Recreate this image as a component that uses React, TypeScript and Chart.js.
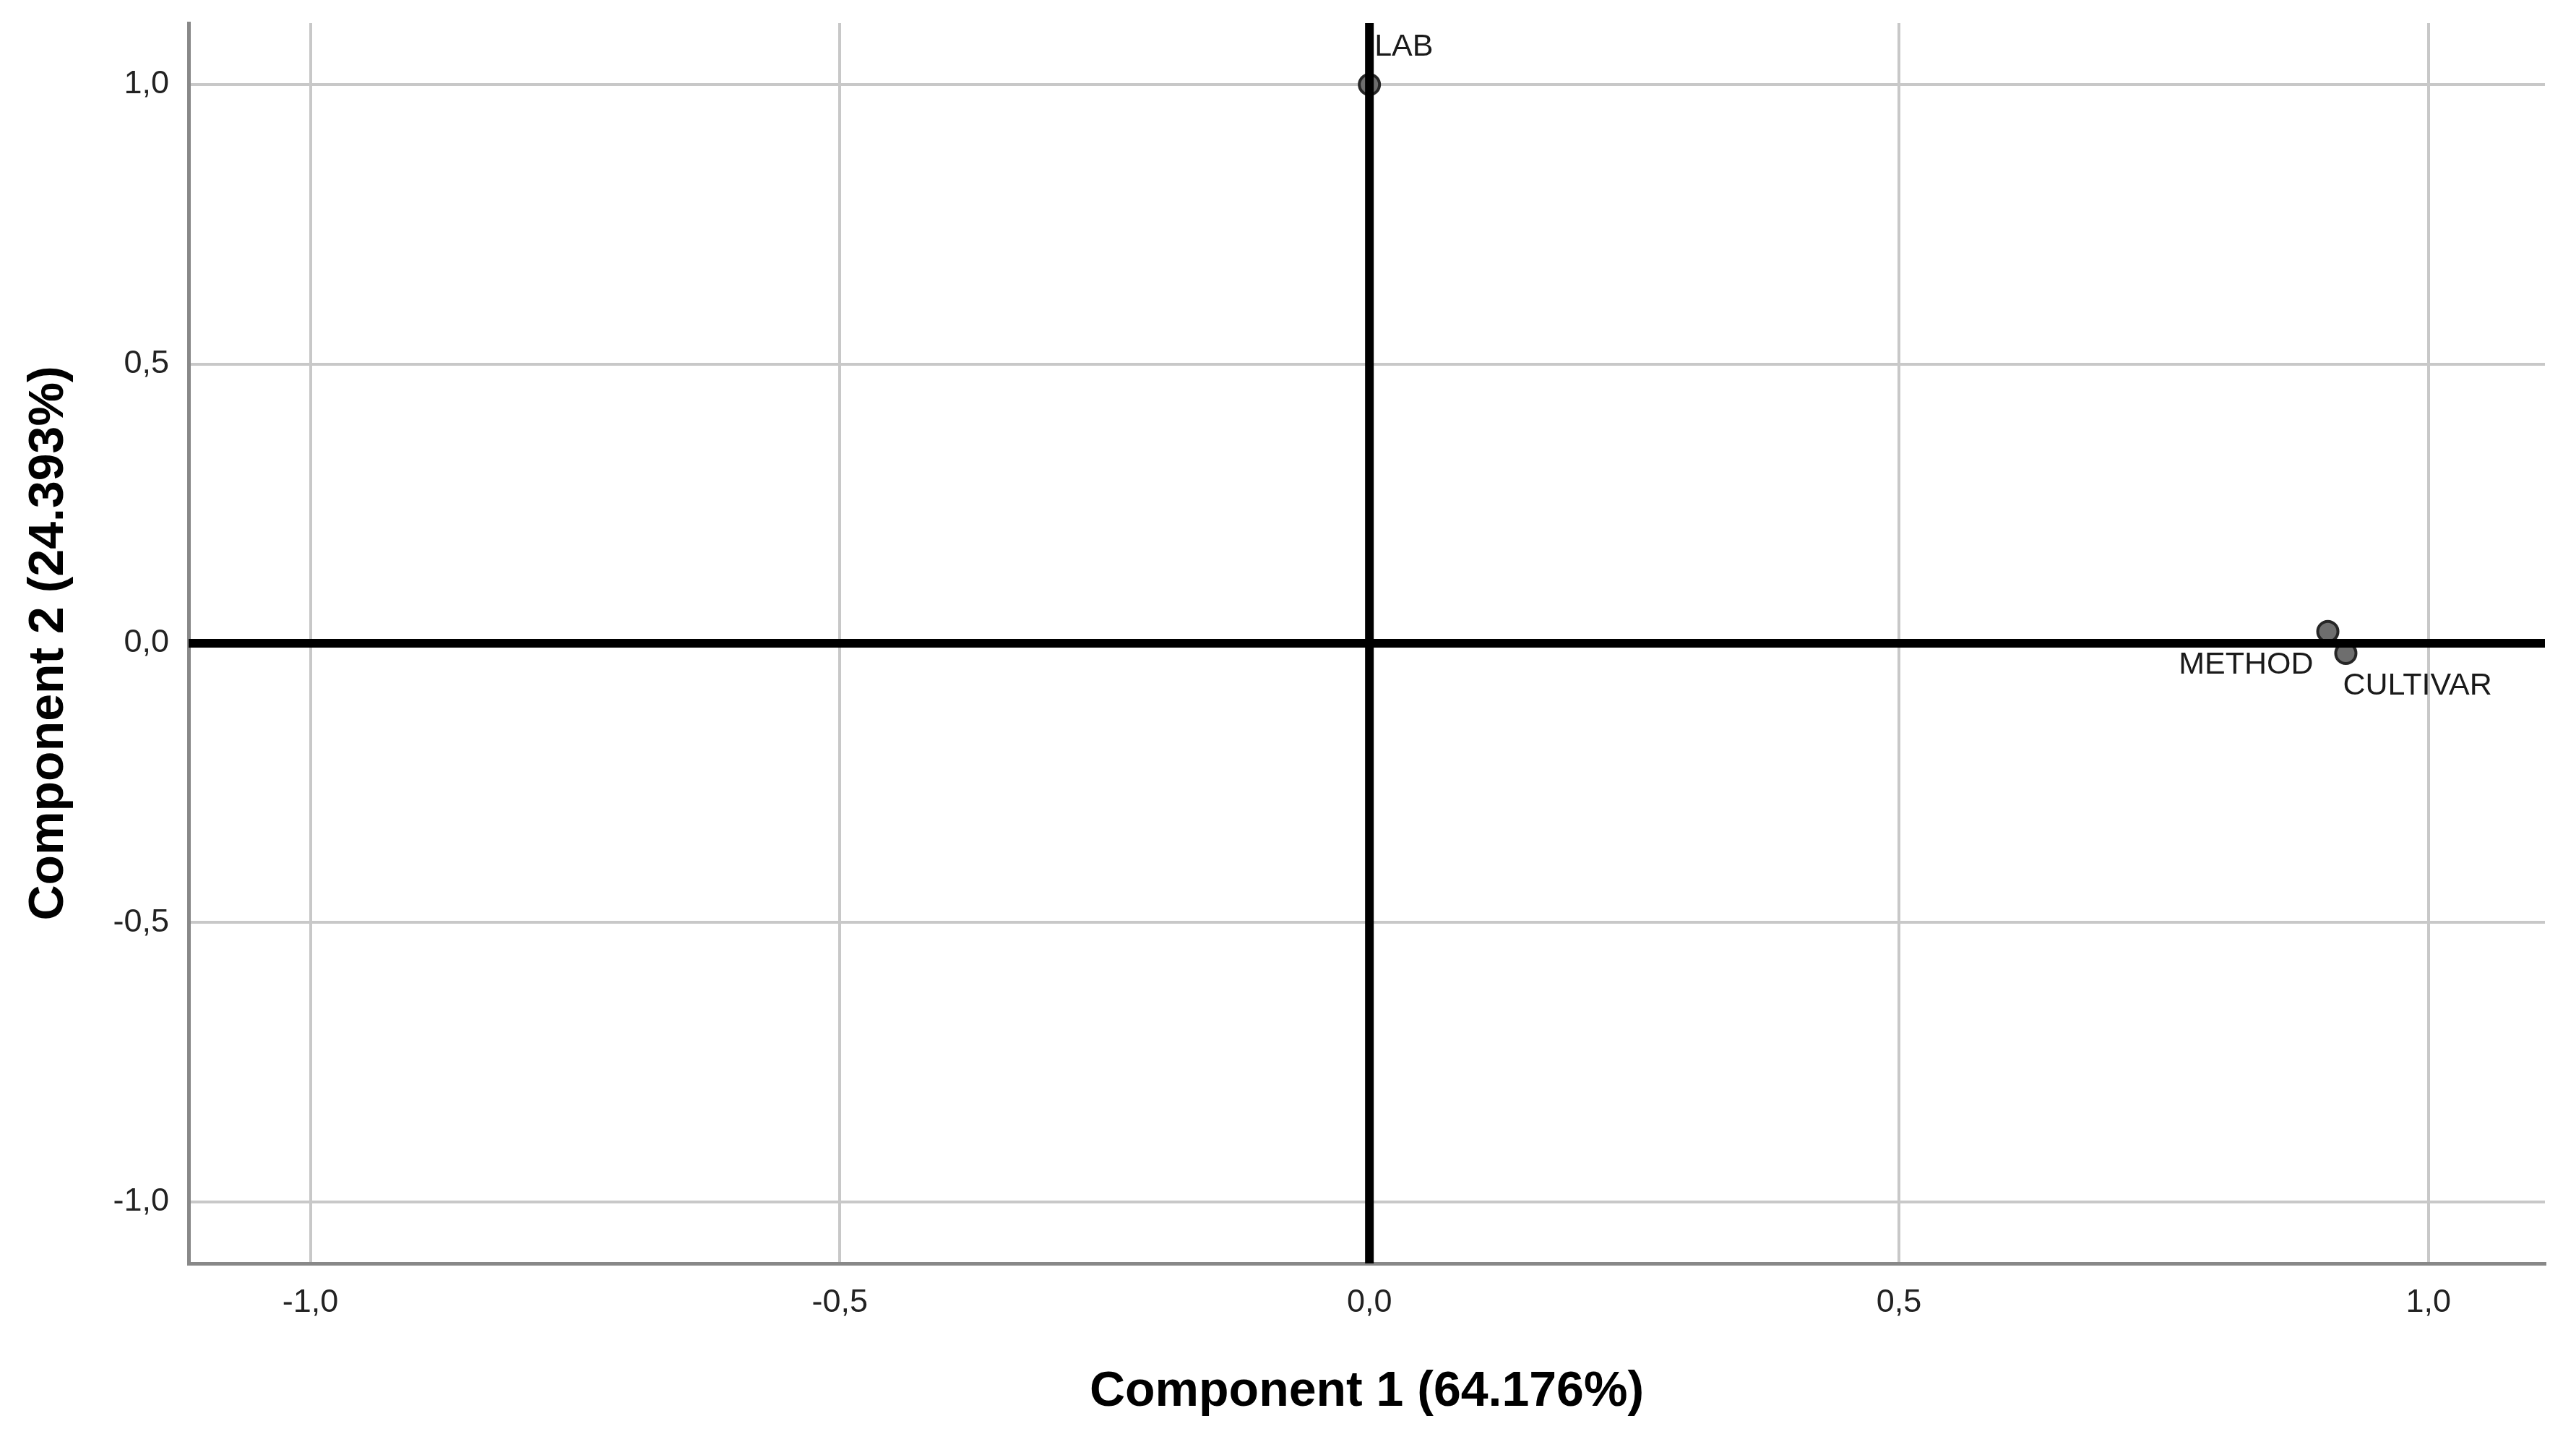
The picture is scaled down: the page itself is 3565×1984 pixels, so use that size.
import React, { useEffect, useRef } from "react";
import { Chart, registerables } from "chart.js";

Chart.register(...registerables);

// ---- data ----
const variables = ["LAB", "METHOD", "CULTIVAR"];
const component1 = [0.0, 0.905, 0.922];
const component2 = [1.0, 0.021, -0.018];
const tickValues = [-1.0, -0.5, 0.0, 0.5, 1.0];
const xTitle = "Component 1 (64.176%)";
const yTitle = "Component 2 (24.393%)";
const xRange = [-1.115, 1.11];
const yRange = [-1.11, 1.11];
const referenceValue = 0;

// ---- styles ----
const FONT = "'Liberation Sans', Arial, sans-serif";
const W = 3565;
const H = 1984;
const labelPlacement: Record<string, { align: CanvasTextAlign; dx: number; dy: number }> = {
  LAB: { align: "left", dx: 7, dy: -52 },
  METHOD: { align: "right", dx: -20, dy: 46 },
  CULTIVAR: { align: "left", dx: -4, dy: 45 },
};

const formatTick = (v: number) => {
  const r = Math.round(v * 10) / 10;
  return (r === 0 ? 0 : r).toFixed(1).replace(".", ",");
};

const refLinesPlugin = {
  id: "refLines",
  afterDatasetsDraw(chart: any) {
    const { ctx, chartArea, scales } = chart;
    const px = scales.x.getPixelForValue(referenceValue);
    const py = scales.y.getPixelForValue(referenceValue);
    ctx.save();
    ctx.strokeStyle = "#000000";
    ctx.lineWidth = 12;
    ctx.lineCap = "butt";
    ctx.beginPath();
    ctx.moveTo(px, chartArea.top);
    ctx.lineTo(px, chartArea.bottom);
    ctx.moveTo(chartArea.left, py);
    ctx.lineTo(chartArea.right, py);
    ctx.stroke();
    ctx.restore();
  },
};

const pointLabelsPlugin = {
  id: "pointLabels",
  afterDraw(chart: any) {
    const { ctx, scales } = chart;
    ctx.save();
    ctx.font = `43px ${FONT}`;
    ctx.fillStyle = "#1a1a1a";
    ctx.textBaseline = "middle";
    variables.forEach((name, i) => {
      const p = labelPlacement[name];
      const x = scales.x.getPixelForValue(component1[i]);
      const y = scales.y.getPixelForValue(component2[i]);
      ctx.textAlign = p.align;
      ctx.fillText(name, x + p.dx, y + p.dy);
    });
    ctx.restore();
  },
};

export default function App() {
  const canvasRef = useRef<HTMLCanvasElement | null>(null);

  useEffect(() => {
    if (!canvasRef.current) return;
    const points = variables.map((_, i) => ({ x: component1[i], y: component2[i] }));
    const chart = new Chart(canvasRef.current, {
      type: "scatter",
      data: {
        datasets: [
          {
            label: "Component loadings",
            data: points,
            pointRadius: 14,
            pointBackgroundColor: "#6e6e6e",
            pointBorderColor: "#262626",
            pointBorderWidth: 4,
          },
        ],
      },
      options: {
        responsive: false,
        animation: false,
        layout: { padding: { top: 32, right: 43, left: 0, bottom: 0 } },
        plugins: {
          legend: { display: false },
          tooltip: { enabled: false },
        },
        scales: {
          x: {
            type: "linear",
            min: xRange[0],
            max: xRange[1],
            afterFit: (s: any) => {
              s.height = 236;
              s.paddingLeft = 0;
              s.paddingRight = 0;
            },
            afterBuildTicks: (s: any) => {
              s.ticks = tickValues.map((v) => ({ value: v }));
            },
            ticks: {
              includeBounds: false,
              padding: 28,
              color: "#222222",
              font: { family: FONT, size: 45 },
              callback: (v: any) => formatTick(Number(v)),
              maxRotation: 0,
              autoSkip: false,
            },
            grid: { color: "#c8c8c8", lineWidth: 4, drawTicks: false },
            border: { display: true, color: "#888888", width: 5 },
            title: {
              display: true,
              text: xTitle,
              color: "#000000",
              font: { family: FONT, size: 68, weight: "bold" },
              padding: { top: 0, bottom: 17 },
            },
          },
          y: {
            type: "linear",
            min: yRange[0],
            max: yRange[1],
            afterFit: (s: any) => {
              s.width = 261;
              s.paddingTop = 0;
              s.paddingBottom = 0;
            },
            afterBuildTicks: (s: any) => {
              s.ticks = tickValues.map((v) => ({ value: v }));
            },
            ticks: {
              includeBounds: false,
              padding: 27,
              color: "#222222",
              font: { family: FONT, size: 45 },
              callback: (v: any) => formatTick(Number(v)),
              autoSkip: false,
            },
            grid: { color: "#c8c8c8", lineWidth: 4, drawTicks: false },
            border: { display: true, color: "#888888", width: 5 },
            title: {
              display: true,
              text: yTitle,
              color: "#000000",
              font: { family: FONT, size: 68, weight: "bold" },
              padding: { top: 27, bottom: 0 },
            },
          },
        },
      },
      plugins: [refLinesPlugin, pointLabelsPlugin],
    });
    return () => chart.destroy();
  }, []);

  return (
    <div style={{ position: "fixed", left: 0, top: 0, width: W, height: H, background: "#ffffff" }}>
      <canvas ref={canvasRef} width={W} height={H} style={{ display: "block", width: W, height: H }} />
    </div>
  );
}
